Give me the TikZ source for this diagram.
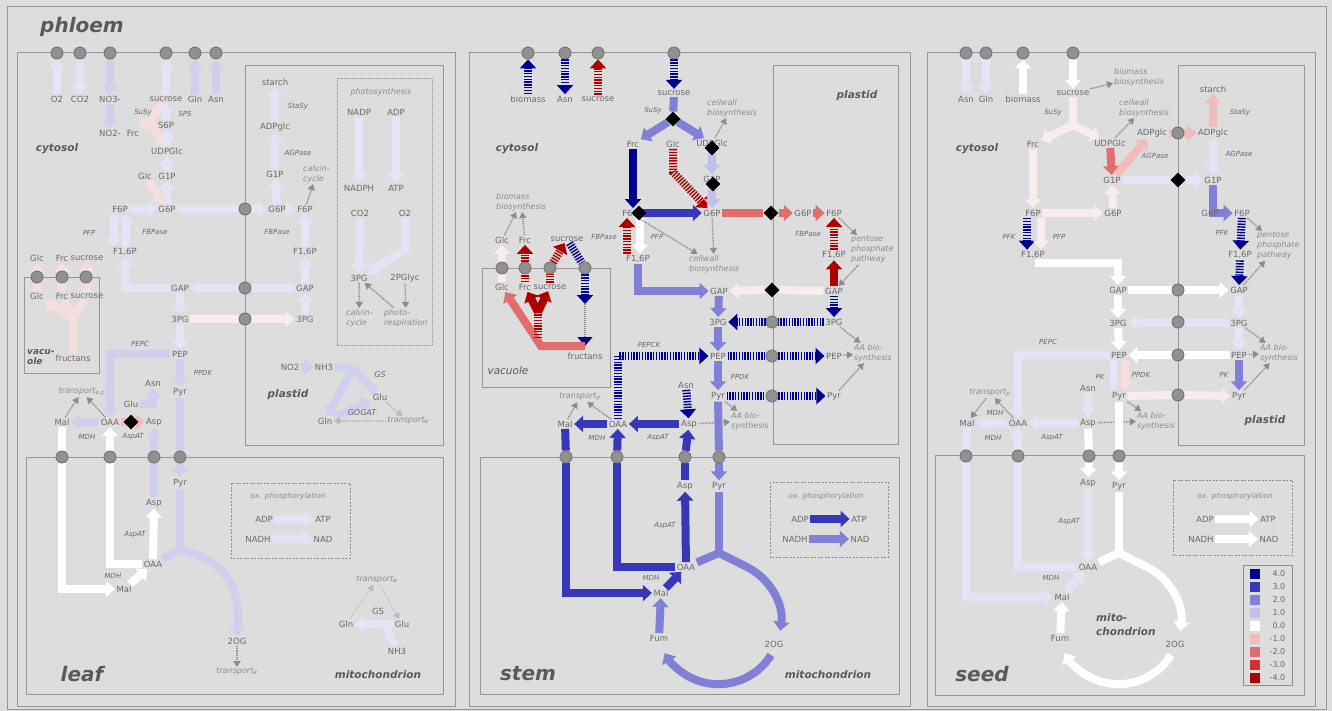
\documentclass[tikz,border=0pt]{standalone}
\usepackage{fontspec}
\setmainfont{DejaVu Sans}
\usetikzlibrary{arrows.meta,shapes.geometric}

\definecolor{bgc}{RGB}{221,221,221}
\definecolor{frm}{RGB}{150,150,150}
\definecolor{txt}{RGB}{105,105,105}
\definecolor{ltx}{RGB}{140,140,140}
\definecolor{dtx}{RGB}{90,90,90}
\definecolor{b4}{RGB}{0,0,145}
\definecolor{b3}{RGB}{55,55,185}
\definecolor{b2}{RGB}{128,128,215}
\definecolor{b1}{RGB}{192,192,234}
\definecolor{bh}{RGB}{208,208,238}
\definecolor{bq}{RGB}{228,228,246}
\definecolor{r1}{RGB}{242,188,188}
\definecolor{r2}{RGB}{224,110,110}
\definecolor{r3}{RGB}{205,50,50}
\definecolor{r4}{RGB}{175,0,0}
\definecolor{rh}{RGB}{246,222,222}
\definecolor{rq}{RGB}{249,236,236}

\pgfdeclarelayer{back}
\pgfdeclarelayer{flows}
\pgfsetlayers{back,flows,main}

\tikzset{
  met/.style={text=txt, font=\fontsize{8.5}{9}\selectfont, inner sep=1.5pt},
  enz/.style={text=txt, font=\fontsize{7}{8}\selectfont\itshape, inner sep=1pt},
  proc/.style={text=ltx, font=\fontsize{8}{10}\selectfont\itshape, align=left, inner sep=1pt},
  comp/.style={text=dtx, font=\fontsize{10.5}{13}\selectfont\bfseries\itshape, align=left, inner sep=0pt},
  organ/.style={text=dtx, font=\fontsize{20}{22}\selectfont\bfseries\itshape, inner sep=0pt},
  flux/.style={line width=8pt, draw=#1, -{Triangle[length=9pt,width=16pt]}},
  sflux/.style={flux=#1, dash pattern=on 1.4pt off 1.4pt},
  fbar/.style={line width=8pt, draw=#1},
  sfbar/.style={fbar=#1, dash pattern=on 1.4pt off 1.4pt},
  cv/.style={draw=ltx, line width=1.4pt, dash pattern=on 1.2pt off 1pt, -{Triangle[length=6pt,width=7pt]}},
  port/.style={circle, fill={rgb,255:red,145;green,145;blue,145}, draw={rgb,255:red,110;green,110;blue,110}, line width=0.8pt, minimum size=12pt, inner sep=0pt},
  gate/.style={diamond, fill=black, minimum size=15pt, inner sep=0pt},
  cbox/.style={draw=frm, line width=1pt},
  oxbox/.style={draw=ltx, line width=0.9pt, dash pattern=on 2pt off 1.5pt},
  oxl/.style={proc, font=\fontsize{7.5}{9}\selectfont\itshape}
}

\begin{document}
\begin{tikzpicture}[x=1pt,y=-1pt]
\useasboundingbox (0,0) rectangle (1332,711);

\begin{pgfonlayer}{back}
\fill[bgc] (0,0) rectangle (1332,711);
\draw[cbox] (7,7) rectangle (1326,709);
\foreach \xa/\xb in {17/455,469/910,927/1315}
  \draw[cbox] (\xa,53) rectangle (\xb,706);
% plastids
\draw[cbox] (245,66) rectangle (443,445);
\draw[cbox] (773,66) rectangle (898,444);
\draw[cbox] (1178,66) rectangle (1304,445);
% mitochondria
\draw[cbox] (26,457) rectangle (443,694);
\draw[cbox] (480,457) rectangle (899,694);
\draw[cbox] (935,455) rectangle (1304,695);
% vacuoles
\draw[cbox] (24,277) rectangle (99,373);
\draw[cbox] (482,268) rectangle (610,387);
\draw[draw=ltx, line width=0.9pt, dash pattern=on 1pt off 1pt] (337,78) rectangle (432,345);
\draw[oxbox] (231,483) rectangle (350,558);
\draw[oxbox] (770,482) rectangle (888,557);
\draw[oxbox] (1173,480) rectangle (1292,555);
\draw[cbox, draw=ltx] (1243,565) rectangle (1292,685);
\end{pgfonlayer}

\node[organ] (phl) at (82,27) {phloem};

% ---------------- leaf ----------------
\foreach \n/\x in {1/57,2/80,3/110,4/166,5/195,6/216}
  \node[port] (lt\n) at (\x,53) {};
\foreach \n/\x in {1/37,2/62,3/86}
  \node[port] (lv\n) at (\x,277) {};
\foreach \n/\x in {1/62,2/110,3/154,4/180}
  \node[port] (lm\n) at (\x,457) {};
\foreach \n/\y in {1/209,2/288,3/319}
  \node[port] (lp\n) at (245,\y) {};

\node[met] (lO2) at (57,99) {O2};
\node[met] (lCO2) at (80,99) {CO2};
\node[met] (lNO3) at (110,99) {NO3-};
\node[met] (lsuc) at (166,99) {sucrose};
\node[met] (lGln) at (195,99) {Gln};
\node[met] (lAsn) at (216,99) {Asn};
\node[met] (lNO2) at (110,133) {NO2-};
\node[met] (lFrc) at (133,133) {Frc};
\node[met] (lS6P) at (166,125) {S6P};
\node[met] (lUDPG) at (167,151) {UDPGlc};
\node[met] (lGlc) at (145,176) {Glc};
\node[met] (lG1P) at (167,176) {G1P};
\node[met] (lF6P) at (120,209) {F6P};
\node[met] (lG6P) at (167,209) {G6P};
\node[met] (lF16P) at (125,252) {F1,6P};
\node[met] (lGAP) at (180,288) {GAP};
\node[met] (l3PG) at (180,319) {3PG};
\node[met] (lPEP) at (180,354) {PEP};
\node[met] (lPyr) at (180,392) {Pyr};
\node[met] (lAsn2) at (153,383) {Asn};
\node[met] (lGlu) at (131,404) {Glu};
\node[met] (lAsp) at (154,422) {Asp};
\node[met] (lOAA) at (110,422) {OAA};
\node[met] (lMal) at (62,422) {Mal};
\node[enz] (lSuSy) at (143,113) {SuSy};
\node[enz] (lSPS) at (185,114) {SPS};
\node[enz] (lPFP) at (89,233) {PFP};
\node[enz] (lFBP) at (155,232) {FBPase};
\node[enz] (lPEPC) at (140,344) {PEPC};
\node[enz] (lPPDK) at (203,373) {PPDK};
\node[enz] (lMDH) at (87,437) {MDH};
\node[enz] (lAspAT) at (133,437) {AspAT};
\node[proc] (ltrp) at (82,392) {transport\textsubscript{e,p}};
\node[comp] (lcyt) at (57,149) {cytosol};
% leaf vacuole
\node[met] (lvGlc) at (37,258) {Glc};
\node[met] (lvFrc) at (62,258) {Frc};
\node[met] (lvsuc) at (87,258) {sucrose};
\node[met] (lvGlc2) at (37,296) {Glc};
\node[met] (lvFrc2) at (62,296) {Frc};
\node[met] (lvsuc2) at (87,296) {sucrose};
\node[met] (lvfru) at (73,358) {fructans};
\node[comp, anchor=west, font=\fontsize{9}{10}\selectfont\bfseries\itshape] (lvac) at (27,357) {vacu-\\ole};
% leaf plastid
\node[met] (lpsta) at (275,82) {starch};
\node[enz] (lpStaSy) at (298,107) {StaSy};
\node[met] (lpADPG) at (275,127) {ADPglc};
\node[enz] (lpAGP) at (298,153) {AGPase};
\node[met] (lpG1P) at (275,174) {G1P};
\node[proc, anchor=west] (lpcal) at (302,174) {calvin-\\cycle};
\node[met] (lpG6P) at (277,209) {G6P};
\node[met] (lpF6P) at (305,209) {F6P};
\node[enz] (lpFBP) at (277,232) {FBPase};
\node[met] (lpF16P) at (305,252) {F1,6P};
\node[met] (lpGAP) at (305,288) {GAP};
\node[met] (lp3PG) at (305,319) {3PG};
\node[proc] (lphs) at (381,92) {photosynthesis};
\node[met] (lNADP) at (359,112) {NADP};
\node[met] (lADP) at (396,112) {ADP};
\node[met] (lNADPH) at (359,188) {NADPH};
\node[met] (lATP) at (396,188) {ATP};
\node[met] (lCO2p) at (360,213) {CO2};
\node[met] (lO2p) at (405,213) {O2};
\node[met] (lp3PGb) at (359,278) {3PG};
\node[met] (lp2PG) at (405,278) {2PGlyc};
\node[proc, anchor=west] (lpcal2) at (345,318) {calvin-\\cycle};
\node[proc, anchor=west] (lpres) at (383,318) {photo-\\respiration};
\node[met] (lpNO2) at (290,367) {NO2};
\node[met] (lpNH3) at (324,367) {NH3};
\node[enz, font=\fontsize{8}{9}\selectfont\itshape] (lpGS) at (380,375) {GS};
\node[met] (lpGlu) at (380,397) {Glu};
\node[met] (lpGln) at (325,421) {Gln};
\node[enz, font=\fontsize{8}{9}\selectfont\itshape] (lpGOG) at (362,413) {GOGAT};
\node[proc] (lptr) at (408,421) {transport\textsubscript{e}};
\node[comp] (lplas) at (288,395) {plastid};
% leaf mitochondrion
\node[met] (lmPyr) at (180,483) {Pyr};
\node[met] (lmAsp) at (154,503) {Asp};
\node[enz] (lmAspAT) at (135,535) {AspAT};
\node[met] (lmOAA) at (153,564) {OAA};
\node[enz] (lmMDH) at (113,576) {MDH};
\node[met] (lmMal) at (124,589) {Mal};
\node[met] (lm2OG) at (237,641) {2OG};
\node[proc] (lmtr) at (237,672) {transport\textsubscript{e}};
\node[oxl] (lmox) at (288,496) {ox. phosphorylation};
\node[met] (lmADP) at (264,519) {ADP};
\node[met] (lmATP) at (323,519) {ATP};
\node[met] (lmNADH) at (258,539) {NADH};
\node[met] (lmNAD) at (323,539) {NAD};
\node[proc] (lmtr2) at (377,580) {transport\textsubscript{e}};
\node[met] (lmGS) at (378,611) {GS};
\node[met] (lmGln) at (346,624) {Gln};
\node[met] (lmGlu) at (402,624) {Glu};
\node[met] (lmNH3) at (397,651) {NH3};
\node[organ] (lleaf) at (82,674) {leaf};
\node[comp] (lmito) at (378,675) {mitochondrion};
\node[gate] (lgt) at (131,422) {};

\begin{pgfonlayer}{flows}
\draw[flux=bq] (lO2) -- (lt1);
\draw[flux=bq] (lt2) -- (lCO2);
\draw[flux=bh] (lt3) -- (lNO3);
\draw[flux=bq] (lsuc) -- (lt4);
\draw[flux=bh] (lGln) -- (lt5);
\draw[flux=bh] (lAsn) -- (lt6);
\draw[flux=bh] (lNO3) -- (lNO2);
\coordinate (lk1) at (150,120);
\draw[fbar=rh] (lsuc) -- (lk1);
\draw[flux=rh] (lk1) -- (lFrc);
\draw[flux=rh] (lk1) -- (lUDPG);
\draw[flux=bq] (lS6P) -- (lsuc);
\draw[flux=bq] (lUDPG) -- (lS6P);
\draw[flux=bq] (lG1P) -- (lUDPG);
\draw[flux=rh] (lGlc) -- (lG6P);
\draw[flux=bq] (lG6P) -- (lG1P);
\draw[flux=bq] (lF6P) -- (lG6P);
\draw[flux=bq] ([xshift=-6pt]lF6P.south) -- ([xshift=-11pt]lF16P.north);
\draw[flux=bq] ([xshift=1pt]lF16P.north) -- ([xshift=6pt]lF6P.south);
\draw[flux=bq] (lGAP) -| (lF16P);
\draw[fbar=bq] (lpGAP) -- (lp2);
\draw[flux=bq] (lp2) -- (lGAP);
\draw[flux=bq] (lGAP) -- (l3PG);
\draw[fbar=rq] (l3PG) -- (lp3);
\draw[flux=rq] (lp3) -- (lp3PG);
\draw[flux=bq] (l3PG) -- (lPEP);
\draw[flux=bh] (lPEP) -- (lPyr);
\draw[flux=bh] (lPEP) -| (lOAA);
\draw[flux=bh] (lGlu) -| (lAsn2);
\draw[flux=bh] (lOAA) -- (lMal);
\draw[flux=r1] (lOAA) -- (lAsp);
\draw[cv] (lMal) -- (ltrp);
\draw[cv] (lOAA) -- (ltrp);
\draw[fbar=bq] (lG6P) -- (lp1);
\draw[flux=bq] (lp1) -- (lpG6P);
% vacuole
\foreach \n/\m in {1/Glc,2/Frc,3/suc} {
  \draw[flux=rh] (lv\n) -- (lv\m);
  \draw[fbar=rh] (lv\m2) -- (lv\n);
}
\coordinate (lk4) at (73,318);
\draw[fbar=rh] (lvfru) -- (lk4);
\draw[flux=rh] (lk4) -- (lvGlc2);
\draw[fbar=rh] (lk4) -- (lvFrc2);
\draw[fbar=rh] (lk4) -- (lvsuc2);
% plastid
\draw[flux=bq] (lpG6P) -- (lpG1P);
\draw[flux=bq] (lpG1P) -- (lpADPG);
\draw[flux=bq] (lpADPG) -- (lpsta);
\draw[flux=bq] (lpG6P) -- (lpF6P);
\draw[flux=bq] (lpF16P) -- (lpF6P);
\draw[flux=bq] (lpGAP) -- (lpF16P);
\draw[flux=bq] (lp3PG) -- (lpGAP);
\draw[cv] (lpF6P) -- (lpcal);
\draw[flux=bq] (lNADP) -- (lNADPH);
\draw[flux=bq] (lADP) -- (lATP);
\draw[flux=bq] (lCO2p) -- (lp3PGb);
\coordinate (lk2) at (405,250);
\draw[flux=bq] (lO2p) -- (lk2) -- (lp3PGb);
\draw[cv] (lp3PGb) -- (lpcal2);
\draw[cv] (lp2PG) -- (lpres);
\draw[cv] (lpres) -- (lp3PGb);
\draw[flux=bh] (lpNO2) -- (lpNH3);
\coordinate (lk3) at (353,368);
\draw[fbar=bh] (lpNH3) -- (lk3);
\draw[fbar=bh] (lpGlu) -- (lk3);
\draw[flux=bh] (lk3) -- (lpGln);
\draw[flux=bh] (lpGln) -- (lpGlu);
\draw[cv, draw=ltx!45!bgc] (lpGlu) -- (lptr);
\draw[cv, draw=ltx!45!bgc] (lptr) -- (lpGln);
% mitochondrion
\draw[fbar=white] (lMal) -- (lm1);
\draw[flux=white] (lm1) |- (lmMal);
\draw[fbar=white] (lmOAA) -| (lm2);
\draw[flux=white] (lm2) -- (lOAA);
\draw[flux=bh] (lm3) -- (lAsp);
\draw[fbar=bh] (lmAsp) -- (lm3);
\draw[flux=white] (lmOAA) -- (lmAsp);
\draw[fbar=bh] (lPyr) -- (lm4);
\draw[flux=bh] (lm4) -- (lmPyr);
\coordinate (lk5) at (180,550);
\draw[fbar=bh] (lmPyr) -- (lk5);
\draw[fbar=bh] (lk5) -- (lmOAA);
\draw[flux=bh] (lk5) .. controls (225,560) and (240,585) .. (lm2OG);
\draw[flux=white] (lmMal) -- (lmOAA);
\draw[cv] (lm2OG) -- (lmtr);
\draw[flux=bq] (lmADP) -- (lmATP);
\draw[flux=bq] (lmNADH) -- (lmNAD);
\coordinate (lk6) at (386,626);
\draw[flux=bq] (lmGlu) -- (lmGln);
\draw[fbar=bq] (lmNH3) -- (lk6);
\draw[cv, draw=ltx!45!bgc, line width=0.8pt] (lmGln) -- (lmtr2);
\draw[cv, draw=ltx!45!bgc, line width=0.8pt] (lmtr2) -- (lmGlu);
\end{pgfonlayer}

% ---------------- stem ----------------
\foreach \n/\x in {1/528,2/565,3/598,4/674}
  \node[port] (st\n) at (\x,53) {};
\foreach \n/\x in {1/502,2/525,3/550,4/585}
  \node[port] (sv\n) at (\x,268) {};
\foreach \n/\x in {1/566,2/617,3/685,4/719}
  \node[port] (sm\n) at (\x,457) {};
\foreach \n/\y in {1/322,2/356,3/396}
  \node[port] (sp\n) at (772,\y) {};

\node[met] (sbio) at (528,99) {biomass};
\node[met] (sAsn) at (565,99) {Asn};
\node[met] (ssuc) at (598,99) {sucrose};
\node[met] (ssuc2) at (674,93) {sucrose};
\node[enz] (sSuSy) at (653,111) {SuSy};
\node[proc, anchor=west] (scw1) at (706,108) {cellwall\\biosynthesis};
\node[comp] (scyt) at (517,149) {cytosol};
\node[met] (sFrc) at (633,144) {Frc};
\node[met] (sGlc) at (673,144) {Glc};
\node[met] (sUDPG) at (712,143) {UDPGlc};
\node[met] (sG1P) at (712,179) {G1P};
\node[met] (sF6P) at (630,213) {F6P};
\node[met] (sG6P) at (712,213) {G6P};
\node[enz] (sFBP) at (604,237) {FBPase};
\node[enz] (sPFP) at (657,237) {PFP};
\node[met] (sF16P) at (638,259) {F1,6P};
\node[proc, anchor=west] (scw2) at (688,264) {cellwall\\biosynthesis};
\node[met] (sGAP) at (719,291) {GAP};
\node[met] (s3PG) at (718,322) {3PG};
\node[met] (sPEP) at (718,356) {PEP};
\node[enz] (sPEPCK) at (649,345) {PEPCK};
\node[enz] (sPPDK) at (740,377) {PPDK};
\node[met] (sPyr) at (718,396) {Pyr};
\node[proc, anchor=west] (saa1) at (730,421) {AA bio-\\synthesis};
\node[met] (sAsn2) at (686,385) {Asn};
\node[met] (sAsp) at (689,424) {Asp};
\node[met] (sOAA) at (618,424) {OAA};
\node[met] (sMal) at (565,424) {Mal};
\node[enz] (sMDH) at (597,438) {MDH};
\node[enz] (sAspAT) at (658,438) {AspAT};
\node[proc] (strp) at (580,397) {transport\textsubscript{p}};
% stem plastid
\node[comp] (splas) at (857,96) {plastid};
\node[met] (spG6P) at (803,213) {G6P};
\node[met] (spF6P) at (834,213) {F6P};
\node[enz] (spFBP) at (808,234) {FBPase};
\node[met] (spF16P) at (834,255) {F1,6P};
\node[proc, anchor=west] (sppp) at (850,250) {pentose\\phosphate\\pathway};
\node[met] (spGAP) at (834,291) {GAP};
\node[met] (sp3PG) at (834,322) {3PG};
\node[met] (spPEP) at (834,356) {PEP};
\node[met] (spPyr) at (834,396) {Pyr};
\node[proc, anchor=west] (spaa) at (853,353) {AA bio-\\synthesis};
% stem vacuole
\node[met] (svGlc) at (502,240) {Glc};
\node[met] (svFrc) at (525,240) {Frc};
\node[met] (svsuc) at (567,239) {sucrose};
\node[proc, anchor=west] (svbio) at (495,202) {biomass\\biosynthesis};
\node[met] (svGlc2) at (502,287) {Glc};
\node[met] (svFrc2) at (525,287) {Frc};
\node[met] (svsuc2) at (550,287) {sucrose};
\node[met] (svfru) at (585,356) {fructans};
\node[text=dtx, font=\fontsize{10.5}{12}\selectfont\itshape] (svac) at (508,371) {vacuole};
% stem mitochondrion
\node[met] (smAsp) at (685,486) {Asp};
\node[met] (smPyr) at (719,486) {Pyr};
\node[enz] (smAspAT) at (665,526) {AspAT};
\node[met] (smOAA) at (686,567) {OAA};
\node[enz] (smMDH) at (651,578) {MDH};
\node[met] (smMal) at (661,593) {Mal};
\node[met] (smFum) at (659,638) {Fum};
\node[met] (sm2OG) at (774,644) {2OG};
\node[oxl] (smox) at (826,496) {ox. phosphorylation};
\node[met] (smADP) at (800,519) {ADP};
\node[met] (smATP) at (859,519) {ATP};
\node[met] (smNADH) at (795,539) {NADH};
\node[met] (smNAD) at (860,539) {NAD};
\node[organ] (sstem) at (528,674) {stem};
\node[comp] (smito) at (828,675) {mitochondrion};
\node[gate] (sg1) at (673,119) {};
\node[gate] (sg2) at (712,148) {};
\node[gate] (sg3) at (713,184) {};
\node[gate] (sg4) at (639,213) {};
\node[gate] (sg5) at (771,213) {};
\node[gate] (sg6) at (772,290) {};

\begin{pgfonlayer}{flows}
\draw[sflux=b4] (sbio) -- (st1);
\draw[sflux=b4] (st2) -- (sAsn);
\draw[sflux=r4] (ssuc) -- (st3);
\draw[sflux=b4] (st4) -- (ssuc2);
\draw[fbar=b2] (ssuc2) -- (sg1);
\draw[flux=b2] (sg1) -- (sFrc);
\draw[flux=b2] (sg1) -- (sUDPG);
\draw[flux=b4] (sFrc) -- (sFrc |- sF6P.north);
\coordinate (sk1) at (673,172);
\draw[sflux=r4] (sGlc) -- (sk1) -- (sG6P);
\draw[flux=b1] (sUDPG) -- (sG1P);
\draw[flux=b1] (sG1P) -- (sG6P);
\draw[flux=b3] (sF6P) -- (sG6P);
\draw[fbar=r2] (sG6P) -- (sg5);
\draw[flux=r2] (sg5) -- (spG6P);
\draw[flux=r2] (spG6P) -- (spF6P);
\draw[sflux=r4] ([xshift=-11pt]sF16P.north) -- ([xshift=-3pt]sF6P.south);
\draw[flux=white] ([xshift=10pt]sF6P.south) -- ([xshift=2pt]sF16P.north);
\draw[cv] (sF6P) -- (scw2);
\draw[cv] (sG6P) -- (scw2);
\draw[cv] (sUDPG) -- (scw1);
\draw[flux=b2] (sF16P) |- (sGAP);
\draw[fbar=rq] (spGAP) -- (sg6);
\draw[flux=rq] (sg6) -- (sGAP);
\draw[sflux=r4] (spF16P) -- (spF6P);
\draw[flux=r4] (spGAP) -- (spF16P);
\draw[sflux=b4] (spGAP) -- (sp3PG);
\draw[cv] (spF6P) -- (sppp);
\draw[cv] (sppp) -- (spGAP);
\draw[flux=b2] (sGAP) -- (s3PG);
\draw[flux=b2] (s3PG) -- (sPEP);
\draw[flux=b2] (sPEP) -- (sPyr);
\draw[sfbar=b4] (sp3PG) -- (sp1);
\draw[sflux=b4] (sp1) -- (s3PG);
\draw[sfbar=b4] (sPEP) -- (sp2);
\draw[sflux=b4] (sp2) -- (spPEP);
\draw[sfbar=b4] (sPyr) -- (sp3);
\draw[sflux=b4] (sp3) -- (spPyr);
\draw[cv] (sp3PG) -- (spaa);
\draw[cv] (spPEP) -- (spaa);
\draw[cv] (spPyr) -- (spaa);
\draw[sflux=b4] (sOAA) |- (sPEP);
\draw[sflux=b4] (sAsn2) -- (sAsp);
\draw[flux=b3] (sAsp) -- (sOAA);
\draw[flux=b3] (sOAA) -- (sMal);
\draw[cv] (sPyr) -- (saa1);
\draw[cv] (sAsp) -- (saa1);
\draw[cv] (sMal) -- (strp);
\draw[cv] (sOAA) -- (strp);
% vacuole
\draw[flux=rq] (sv1) -- (svGlc);
\draw[fbar=rq] (svGlc2) -- (sv1);
\draw[sflux=r4] (sv2) -- (svFrc);
\draw[sfbar=r4] (svFrc2) -- (sv2);
\draw[sflux=r4] (sv3) -- (svsuc);
\draw[sfbar=r4] (svsuc2) -- (sv3);
\draw[sfbar=b4] (svsuc) -- (sv4);
\coordinate (svk1) at (585,304);
\draw[sflux=b4] (sv4) -- (svk1);
\draw[draw=ltx, line width=1.2pt, dash pattern=on 1pt off 1pt, -{Triangle[length=9pt,width=15pt,color=b4]}, shorten >=5pt] (svk1) -- (svfru);
\coordinate (svk2) at (541,346);
\draw[flux=r2] ([yshift=5pt]svfru.north) -- (svk2) -- (svGlc2);
\coordinate (svk3) at (538,312);
\coordinate (svk4) at (538,338);
\draw[sfbar=r4] (svk4) -- (svk3);
\draw[flux=r4] (svk3) -- (svFrc2);
\draw[flux=r4] (svk3) -- (svsuc2);
\draw[cv] (svGlc) -- (svbio);
\draw[cv] (svFrc) -- (svbio);
% mitochondrion
\draw[fbar=b3] (sMal) -- (sm1);
\draw[flux=b3] (sm1) |- (smMal);
\draw[fbar=b3] (smOAA) -| (sm2);
\draw[flux=b3] (sm2) -- (sOAA);
\draw[fbar=b3] (smAsp) -- (sm3);
\draw[flux=b3] (sm3) -- (sAsp);
\draw[flux=b3] (smOAA) -- (smAsp);
\draw[fbar=b2] (sPyr) -- (sm4);
\draw[flux=b2] (sm4) -- (smPyr);
\coordinate (sk2) at (719,553);
\draw[fbar=b2] (smPyr) -- (sk2);
\draw[fbar=b2] (sk2) -- (smOAA);
\draw[flux=b2] (sk2) -- ++(26,13) arc[start angle=-65,end angle=8,radius=62];
\coordinate (sr1) at (771,655);
\draw[flux=b2] (sr1) arc[start angle=32,end angle=150,radius=62];
\draw[flux=b2] (smFum) -- (smMal);
\draw[flux=b3] (smMal) -- (smOAA);
\draw[flux=b3] (smADP) -- (smATP);
\draw[flux=b2] (smNADH) -- (smNAD);
\end{pgfonlayer}

% ---------------- seed ----------------
\foreach \n/\x in {1/966,2/986,3/1023,4/1073}
  \node[port] (dt\n) at (\x,53) {};
\foreach \n/\x in {1/966,2/1018,3/1089,4/1119}
  \node[port] (dm\n) at (\x,456) {};
\foreach \n/\y in {1/133,2/290,3/322,4/355,5/395}
  \node[port] (dp\n) at (1178,\y) {};

\node[met] (dAsn) at (966,99) {Asn};
\node[met] (dGln) at (986,99) {Gln};
\node[met] (dbio) at (1023,99) {biomass};
\node[met] (dsuc) at (1073,93) {sucrose};
\node[proc, anchor=west] (dbb) at (1113,77) {biomass\\biosynthesis};
\node[proc, anchor=west] (dcw) at (1118,108) {cellwall\\biosynthesis};
\node[enz] (dSuSy) at (1053,113) {SuSy};
\node[comp] (dcyt) at (977,149) {cytosol};
\node[met] (dFrc) at (1033,144) {Frc};
\node[met] (dUDPG) at (1110,143) {UDPGlc};
\node[met] (dADPG) at (1152,133) {ADPglc};
\node[enz] (dAGP) at (1155,156) {AGPase};
\node[met] (dG1P) at (1112,180) {G1P};
\node[met] (dF6P) at (1033,213) {F6P};
\node[met] (dG6P) at (1113,213) {G6P};
\node[enz] (dPFK) at (1009,237) {PFK};
\node[enz] (dPFP) at (1059,237) {PFP};
\node[met] (dF16P) at (1033,255) {F1,6P};
\node[met] (dGAP) at (1118,290) {GAP};
\node[met] (d3PG) at (1118,323) {3PG};
\node[met] (dPEP) at (1119,355) {PEP};
\node[enz] (dPEPC) at (1048,342) {PEPC};
\node[enz] (dPK) at (1100,377) {PK};
\node[enz] (dPPDK) at (1141,375) {PPDK};
\node[met] (dAsn2) at (1088,388) {Asn};
\node[met] (dPyr) at (1119,396) {Pyr};
\node[proc] (dtrp) at (990,393) {transport\textsubscript{p}};
\node[enz] (dMDH1) at (995,413) {MDH};
\node[met] (dMal) at (967,423) {Mal};
\node[met] (dOAA) at (1018,423) {OAA};
\node[met] (dAsp) at (1088,423) {Asp};
\node[proc, anchor=west] (daa1) at (1136,421) {AA bio-\\synthesis};
\node[enz] (dMDH2) at (993,438) {MDH};
\node[enz] (dAspAT) at (1052,438) {AspAT};
% seed plastid
\node[met] (dpsta) at (1213,89) {starch};
\node[enz] (dpStaSy) at (1240,113) {StaSy};
\node[met] (dpADPG) at (1213,133) {ADPglc};
\node[enz] (dpAGP) at (1239,154) {AGPase};
\node[met] (dpG1P) at (1213,180) {G1P};
\node[met] (dpG6P) at (1210,213) {G6P};
\node[met] (dpF6P) at (1242,213) {F6P};
\node[enz] (dpPFK) at (1222,233) {PFK};
\node[met] (dpF16P) at (1240,255) {F1,6P};
\node[proc, anchor=west] (dppp) at (1256,246) {pentose\\phosphate\\pathway};
\node[met] (dpGAP) at (1239,290) {GAP};
\node[met] (dp3PG) at (1239,323) {3PG};
\node[met] (dpPEP) at (1239,355) {PEP};
\node[proc, anchor=west] (dpaa) at (1259,353) {AA bio-\\synthesis};
\node[enz] (dpPK) at (1224,375) {PK};
\node[met] (dpPyr) at (1239,396) {Pyr};
\node[comp] (dplas) at (1265,421) {plastid};
% seed mitochondrion
\node[met] (dmAsp) at (1088,483) {Asp};
\node[met] (dmPyr) at (1119,486) {Pyr};
\node[enz] (dmAspAT) at (1069,522) {AspAT};
\node[met] (dmOAA) at (1088,567) {OAA};
\node[enz] (dmMDH) at (1051,578) {MDH};
\node[met] (dmMal) at (1062,597) {Mal};
\node[met] (dmFum) at (1060,638) {Fum};
\node[met] (dm2OG) at (1175,644) {2OG};
\node[comp, anchor=west, font=\fontsize{10.5}{14}\selectfont\bfseries\itshape] (dmito) at (1096,625) {mito-\\chondrion};
\node[oxl] (dmox) at (1235,496) {ox. phosphorylation};
\node[met] (dmADP) at (1205,519) {ADP};
\node[met] (dmATP) at (1268,519) {ATP};
\node[met] (dmNADH) at (1201,539) {NADH};
\node[met] (dmNAD) at (1269,539) {NAD};
\node[organ] (dseed) at (982,674) {seed};
\node[gate] (dg1) at (1178,180) {};
% legend
\foreach \col/\val [count=\i from 0] in {b4/4.0,b3/3.0,b2/2.0,b1/1.0,white/0.0,r1/-1.0,r2/-2.0,r3/-3.0,r4/-4.0} {
  \fill[\col] (1250,{569+13*\i}) rectangle (1260,{579+13*\i});
  \node[met, anchor=east, font=\fontsize{8}{9}\selectfont] (key\i) at (1287,{574+13*\i}) {\val};
}

\begin{pgfonlayer}{flows}
\draw[flux=bq] (dt1) -- (dAsn);
\draw[flux=bq] (dt2) -- (dGln);
\draw[flux=white] (dbio) -- (dt3);
\draw[flux=white] (dt4) -- (dsuc);
\draw[cv] (dsuc) -- (dbb);
\coordinate (dk1) at (1073,125);
\draw[fbar=rq] (dsuc) -- (dk1);
\draw[flux=rq] (dk1) -- (dFrc);
\draw[flux=rq] (dk1) -- (dUDPG);
\draw[cv] (dUDPG) -- (dcw);
\draw[flux=rq] (dFrc) -- (dF6P);
\draw[flux=rq] (dF6P) -- (dG6P);
\draw[flux=rq] (dG6P) -- (dG1P);
\draw[flux=r2] (dUDPG) -- (dG1P);
\draw[flux=r1] (dG1P) -- (dADPG);
\draw[fbar=r1] (dADPG) -- (dp1);
\draw[flux=r1] (dp1) -- (dpADPG);
\draw[flux=r1] (dpADPG) -- (dpsta);
\draw[flux=bq] (dpADPG) -- (dpG1P);
\draw[fbar=bq] (dG1P) -- (dg1);
\draw[flux=bq] (dg1) -- (dpG1P);
\draw[flux=b2] (dpG1P) |- (dpF6P);
\draw[sflux=b4] (dpF6P) -- (dpF16P);
\draw[sflux=b4] (dpF16P) -- (dpGAP);
\draw[cv] (dpF6P) -- (dppp);
\draw[cv] (dpGAP) -- (dppp);
\draw[sflux=b4] ([xshift=-6pt]dF6P.south) -- ([xshift=-6pt]dF16P.north);
\draw[flux=rq] ([xshift=8pt]dF6P.south) -- ([xshift=8pt]dF16P.north);
\coordinate (dk2) at (1035,263);
\draw[flux=white] (dk2) -| (dGAP);
\draw[fbar=white] (dGAP) -- (dp2);
\draw[flux=white] (dp2) -- (dpGAP);
\draw[flux=white] (dGAP) -- (d3PG);
\draw[flux=white] (d3PG) -- (dPEP);
\draw[fbar=bq] (dp3PG) -- (dp3);
\draw[flux=bq] (dp3) -- (d3PG);
\draw[fbar=white] (dpPEP) -- (dp4);
\draw[flux=white] (dp4) -- (dPEP);
\draw[flux=bq] (dpGAP) -- (dp3PG);
\draw[flux=bq] (dp3PG) -- (dpPEP);
\draw[flux=b2] (dpPEP) -- (dpPyr);
\draw[cv] (dp3PG) -- (dpaa);
\draw[cv] (dpPEP) -- (dpaa);
\draw[cv] (dpPyr) -- (dpaa);
\draw[fbar=bq, line width=7pt] ([xshift=-6pt]dPEP.south) -- ([xshift=-6pt]dPyr.north);
\draw[flux=rh, line width=7pt] ([xshift=6pt]dPEP.south) -- ([xshift=6pt]dPyr.north);
\draw[fbar=rq] (dPyr) -- (dp5);
\draw[flux=rq] (dp5) -- (dpPyr);
\draw[flux=bq] (dPEP) -| (dOAA);
\draw[flux=bq] (dAsn2) -- (dAsp);
\draw[flux=bq] (dAsp) -- (dOAA);
\draw[flux=bq] (dOAA) -- (dMal);
\draw[cv] (dOAA) -- (dtrp);
\draw[cv] (dtrp) -- (dMal);
\draw[cv] (dPyr) -- (daa1);
\draw[cv] (dAsp) -- (daa1);
% mitochondrion
\draw[fbar=bq] (dMal) -- (dm1);
\draw[flux=bq] (dm1) |- (dmMal);
\draw[fbar=bq] (dmOAA) -| (dm2);
\draw[flux=bq] (dm2) -- (dOAA);
\draw[fbar=white] (dAsp) -- (dm3);
\draw[flux=white] (dm3) -- (dmAsp);
\draw[fbar=white] (dPyr) -- (dm4);
\draw[flux=white] (dm4) -- (dmPyr);
\draw[flux=bq] (dmAsp) -- (dmOAA);
\coordinate (dk3) at (1119,553);
\draw[fbar=white] (dmPyr) -- (dk3);
\draw[fbar=white] (dk3) -- (dmOAA);
\draw[flux=white] (dk3) -- ++(26,13) arc[start angle=-65,end angle=8,radius=62];
\coordinate (dr1) at (1171,655);
\draw[flux=white] (dr1) arc[start angle=32,end angle=150,radius=62];
\draw[flux=white] (dmFum) -- (dmMal);
\draw[flux=bq] (dmMal) -- (dmOAA);
\draw[flux=white] (dmADP) -- (dmATP);
\draw[flux=white] (dmNADH) -- (dmNAD);
\end{pgfonlayer}
\end{tikzpicture}
\end{document}
